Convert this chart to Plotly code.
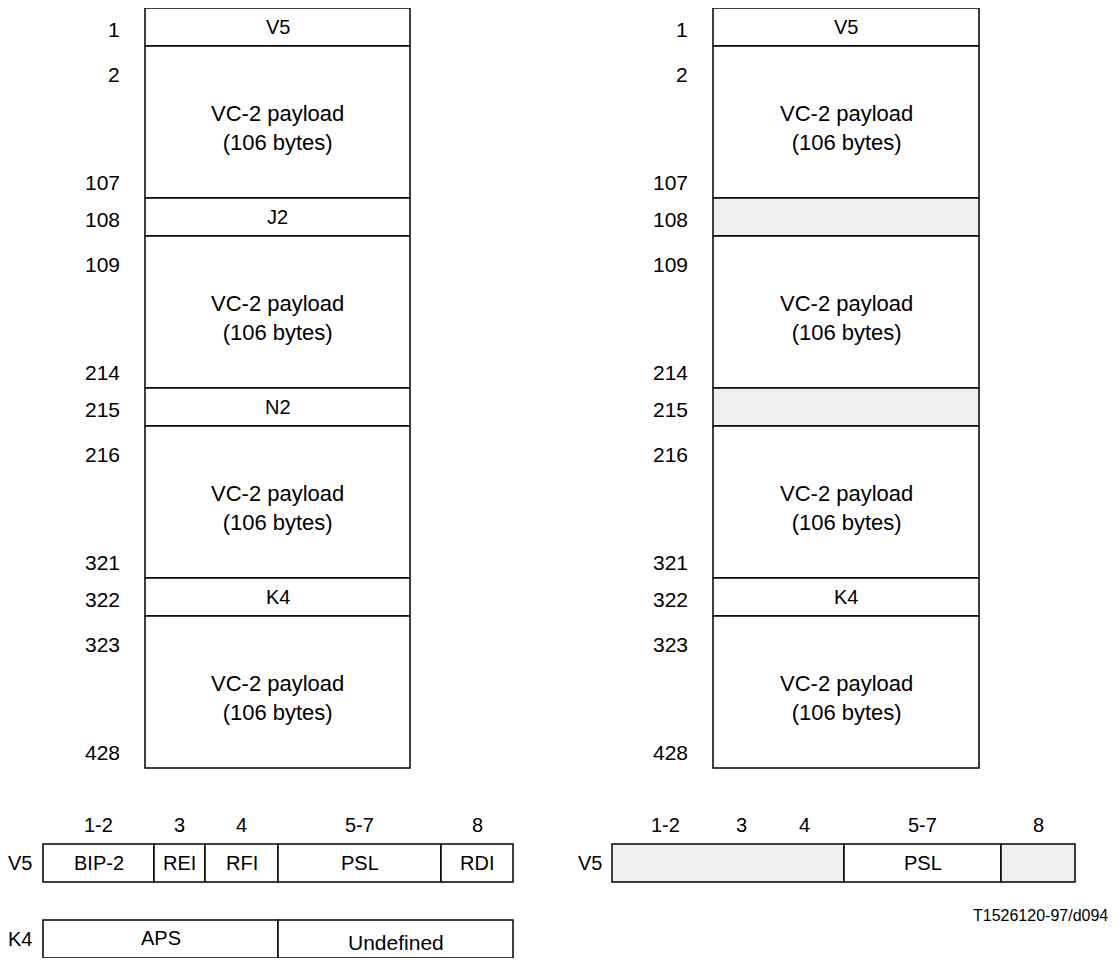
import plotly.graph_objects as go

# VC-2 multiframe (4 x 107 bytes): left with overhead names, right with unused bytes shaded
byte_numbers = [1, 2, 107, 108, 109, 214, 215, 216, 321, 322, 323, 428]
block_kinds = ["oh", "pl", "oh", "pl", "oh", "pl", "oh", "pl"]
payload = "VC-2 payload<br>(106 bytes)"
blocks_left = ["V5", payload, "J2", payload, "N2", payload, "K4", payload]
blocks_right = ["V5", payload, "", payload, "", payload, "K4", payload]
shaded_left = [False] * 8
shaded_right = [False, False, True, False, True, False, False, False]

# V5 / K4 bit allocation
bit_labels = ["1-2", "3", "4", "5-7", "8"]
v5_fields = ["BIP-2", "REI", "RFI", "PSL", "RDI"]
k4_fields = ["APS", "Undefined"]
v5_right_fields = ["", "PSL", ""]
v5_right_span = [[0, 1, 2], [3], [4]]   # bit columns covered by each cell
v5_right_shaded = [True, False, True]
footnote = "T1526120-97/d094"

# drawing constants (pixels of the page; the page body has an 8px margin)
FONT = "Liberation Sans, Arial, sans-serif"
GREY = "#efefef"
LINE = dict(color="black", width=1.5)
TOP, UNIT = 8, 38
ROWS = {"oh": 1, "pl": 4}
BIT_ROW, V5_ROW, K4_ROW = 825, 863, 939

fig = go.Figure()
ann = []


def txt(x, y, s, size=20, anchor="center"):
    ann.append(dict(x=x, y=y, text=s, showarrow=False, xanchor=anchor, yanchor="middle",
                    font=dict(family=FONT, size=size, color="black")))


# --- the two frame columns
for x0, w, names, shaded, lab_x in [(145, 265, blocks_left, shaded_left, 122),
                                    (713, 266, blocks_right, shaded_right, 690)]:
    heights = [ROWS[k] * UNIT for k in block_kinds]
    tops = [TOP + sum(heights[:i]) for i in range(len(heights))]
    fig.add_trace(go.Bar(
        x=[x0 + w / 2] * len(heights), y=heights, base=tops, width=[w] * len(heights),
        marker=dict(color=[GREY if s else "white" for s in shaded], line=LINE),
        hoverinfo="skip", showlegend=False))
    nums = iter(byte_numbers)
    for kind, top, h, name in zip(block_kinds, tops, heights, names):
        if kind == "oh":
            txt(lab_x, top + h / 2 + 2, str(next(nums)), size=21, anchor="right")
            txt(x0 + w / 2, top + h / 2, name)
        else:
            txt(lab_x, top + 0.75 * UNIT, str(next(nums)), size=21, anchor="right")
            txt(lab_x, top + h - 0.4 * UNIT, str(next(nums)), size=21, anchor="right")
            txt(x0 + w / 2, top + h / 2 + 6, name, size=22)

# --- left V5 and K4 bit tables
v5_w = [111, 51, 73, 163, 72]
v5_start = [43 + sum(v5_w[:i]) for i in range(len(v5_w))]
fig.add_trace(go.Bar(orientation="h", y=[V5_ROW] * 5, x=v5_w, base=v5_start, width=[UNIT] * 5,
                     marker=dict(color="white", line=LINE), hoverinfo="skip", showlegend=False))
for s, w, b, f in zip(v5_start, v5_w, bit_labels, v5_fields):
    txt(s + w / 2, BIT_ROW, b)
    txt(s + w / 2, V5_ROW, f)
txt(20, V5_ROW, "V5")

k4_w = [235, 235]
k4_start = [43, 278]
fig.add_trace(go.Bar(orientation="h", y=[K4_ROW] * 2, x=k4_w, base=k4_start, width=[UNIT] * 2,
                     marker=dict(color="white", line=LINE), hoverinfo="skip", showlegend=False))
for s, w, f, dy, sz in zip(k4_start, k4_w, k4_fields, [-1, 3], [20, 21]):
    txt(s + w / 2, K4_ROW + dy, f, size=sz)
txt(20, K4_ROW, "K4")

# --- right V5 table (only PSL defined)
r_w = [106, 46, 80, 157, 74]
r_start = [612 + sum(r_w[:i]) for i in range(len(r_w))]
cell_w = [sum(r_w[i] for i in span) for span in v5_right_span]
cell_s = [r_start[span[0]] for span in v5_right_span]
fig.add_trace(go.Bar(orientation="h", y=[V5_ROW] * 3, x=cell_w, base=cell_s, width=[UNIT] * 3,
                     marker=dict(color=[GREY if s else "white" for s in v5_right_shaded], line=LINE),
                     hoverinfo="skip", showlegend=False))
for s, w, b in zip(r_start, r_w, bit_labels):
    txt(s + w / 2, BIT_ROW, b)
for s, w, f in zip(cell_s, cell_w, v5_right_fields):
    if f:
        txt(s + w / 2, V5_ROW, f)
txt(590, V5_ROW, "V5")

txt(1110, 915, footnote, size=16, anchor="right")

# figure sits at (8, 8) in the page, so the axes run in page pixels
fig.update_layout(
    width=1104, height=950,
    margin=dict(l=0, r=0, t=0, b=0),
    paper_bgcolor="white", plot_bgcolor="white",
    barmode="overlay",
    xaxis=dict(range=[8, 1112], visible=False, fixedrange=True),
    yaxis=dict(range=[958, 8], visible=False, fixedrange=True),
    annotations=ann,
)

fig.write_html("out.html")
